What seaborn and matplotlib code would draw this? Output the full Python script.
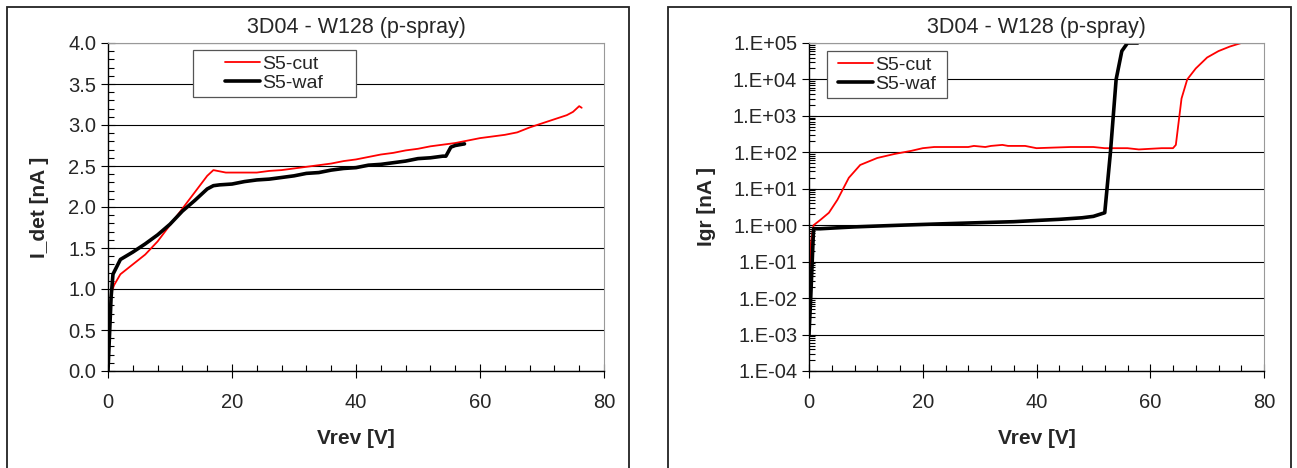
import numpy as np
import pandas as pd
import matplotlib
matplotlib.use("Agg")
import matplotlib.pyplot as plt
import matplotlib.ticker as mticker
from matplotlib.patches import Rectangle
import seaborn as sns

TITLE = "3D04 - W128 (p-spray)"

# I_det, S5-cut
v_det_cut = [0, 0.3, 0.5, 1, 2, 4, 6, 8, 10, 12, 14, 16, 17, 19, 22, 24, 26, 28, 30, 32, 34,
             36, 38, 40, 42, 44, 46, 48, 50, 52, 54, 56, 58, 60, 62, 64, 66, 68, 70, 72, 74,
             75, 76, 76.4]
i_det_cut = [0.0, 0.6, 0.95, 1.05, 1.18, 1.3, 1.42, 1.58, 1.78, 1.98, 2.18, 2.38, 2.45, 2.42,
             2.42, 2.42, 2.44, 2.45, 2.47, 2.49, 2.51, 2.53, 2.56, 2.58, 2.61, 2.64, 2.66, 2.69,
             2.71, 2.74, 2.76, 2.78, 2.81, 2.84, 2.86, 2.88, 2.91, 2.97, 3.02, 3.07, 3.12, 3.16,
             3.23, 3.21]

# I_det, S5-waf
v_det_waf = [0, 0.5, 0.8, 2, 4, 6, 8, 10, 12, 14, 16, 17, 18, 20, 22, 24, 26, 28, 30, 32, 34,
             36, 38, 40, 42, 44, 46, 48, 50, 52, 54, 54.5, 55.3, 56, 57.5]
i_det_waf = [0.0, 0.9, 1.18, 1.36, 1.45, 1.55, 1.66, 1.79, 1.95, 2.08, 2.22, 2.26, 2.27, 2.28,
             2.31, 2.33, 2.34, 2.36, 2.38, 2.41, 2.42, 2.45, 2.47, 2.48, 2.51, 2.52, 2.54, 2.56,
             2.59, 2.6, 2.62, 2.62, 2.73, 2.75, 2.77]

# Igr, S5-cut
v_gr_cut = [0, 0.3, 0.8, 2, 3.5, 5, 7, 9, 12, 15, 18, 20, 22, 25, 28, 29, 31, 32, 34, 35, 38,
            40, 43, 46, 50, 52, 54, 56, 58, 60, 62, 64, 64.5, 65.5, 66.5, 68, 70, 72, 74, 76]
i_gr_cut = [0.02, 0.3, 1.0, 1.4, 2.2, 5, 20, 45, 70, 90, 110, 130, 140, 140, 140, 150, 140,
            150, 160, 150, 150, 130, 135, 140, 140, 130, 130, 130, 120, 125, 130, 130, 160,
            3000, 10000, 20000, 40000, 60000, 80000, 100000]

# Igr, S5-waf
v_gr_waf = [0, 0.3, 0.8, 2, 5, 8, 12, 16, 20, 24, 28, 32, 36, 40, 44, 48, 50, 52, 53, 54, 55,
            56, 57.8]
i_gr_waf = [0.001, 0.01, 0.8, 0.8, 0.85, 0.9, 0.95, 1.0, 1.05, 1.1, 1.15, 1.2, 1.25, 1.35,
            1.45, 1.6, 1.75, 2.2, 100, 10000, 60000, 100000, 100000]

SERIES = ["S5-cut", "S5-waf"]
COLORS = {"S5-cut": "#ff0000", "S5-waf": "#000000"}

det = pd.concat([
    pd.DataFrame({"Vrev": v_det_cut, "I": i_det_cut, "series": "S5-cut"}),
    pd.DataFrame({"Vrev": v_det_waf, "I": i_det_waf, "series": "S5-waf"}),
])
gr = pd.concat([
    pd.DataFrame({"Vrev": v_gr_cut, "I": i_gr_cut, "series": "S5-cut"}),
    pd.DataFrame({"Vrev": v_gr_waf, "I": i_gr_waf, "series": "S5-waf"}),
])

sns.set_style("white")
plt.rcParams["font.family"] = ["Liberation Sans", "DejaVu Sans"]

W, H = 1297, 468
fig = plt.figure(figsize=(W / 100, H / 100), dpi=100)

# panel frames
fig.patches.append(Rectangle((7 / W, -0.01), (629 - 7) / W, 1.01 - 7 / H, transform=fig.transFigure,
                             fill=False, edgecolor="#222222", linewidth=1.3))
fig.patches.append(Rectangle((668 / W, -0.01), (1291 - 668) / W, 1.01 - 7 / H, transform=fig.transFigure,
                             fill=False, edgecolor="#222222", linewidth=1.3))

ax1 = fig.add_axes([108 / W, 1 - 371 / H, (604 - 108) / W, (371 - 43) / H])
ax2 = fig.add_axes([809 / W, 1 - 371 / H, (1264 - 809) / W, (371 - 43) / H])


def draw(ax, df, box):
    for s in SERIES:
        sub = df[df["series"] == s]
        sns.lineplot(data=sub, x="Vrev", y="I", ax=ax, sort=False, estimator=None,
                     color=COLORS[s], linewidth=1.3 if s == "S5-cut" else 2.6, label=s)
    ax.set_xlim(0, 80)
    ax.xaxis.set_major_locator(mticker.MultipleLocator(20))
    ax.xaxis.set_minor_locator(mticker.MultipleLocator(4))
    ax.grid(axis="y", color="black", linewidth=0.8)
    ax.grid(axis="x", visible=False)
    ax.set_axisbelow(True)
    for sp in ["top", "right"]:
        ax.spines[sp].set_color("#999999")
        ax.spines[sp].set_linewidth(0.8)
    for sp in ["left", "bottom"]:
        ax.spines[sp].set_color("black")
        ax.spines[sp].set_linewidth(1.0)
    ax.tick_params(which="major", direction="inout", length=10, width=0.8, labelsize=14.5,
                   color="black", bottom=True, left=True)
    ax.tick_params(which="minor", direction="in", length=4, width=0.8, color="black",
                   bottom=True, left=True)
    ax.tick_params(axis="x", which="major", pad=11)
    ax.set_title(TITLE, fontsize=15.5, pad=7)
    ax.set_xlabel("Vrev [V]", fontsize=15, fontweight="bold", labelpad=12)
    # legend frame drawn as a box, entries centred inside it
    x0, x1, y0, y1 = box
    ax.add_patch(Rectangle((x0, y0), x1 - x0, y1 - y0, transform=ax.transAxes,
                           facecolor="white", edgecolor="#555555", linewidth=0.9,
                           zorder=4, clip_on=False))
    leg = ax.legend(fontsize=14, frameon=False, handlelength=1.8, handletextpad=0.1,
                    borderpad=0.0, labelspacing=0.1, loc="center",
                    bbox_to_anchor=((x0 + x1) / 2, (y0 + y1) / 2))
    leg.set_zorder(5)
    return leg


draw(ax1, det, (0.171, 0.5, 0.835, 0.979))
ax1.set_ylim(0, 4)
ax1.yaxis.set_major_locator(mticker.MultipleLocator(0.5))
ax1.yaxis.set_minor_locator(mticker.MultipleLocator(0.1))
ax1.yaxis.set_major_formatter(mticker.FormatStrFormatter("%.1f"))
ax1.set_ylabel("I_det [nA ]", fontsize=15, fontweight="bold", labelpad=14)

draw(ax2, gr, (0.04, 0.303, 0.832, 0.976))
ax2.set_yscale("log")
ax2.set_ylim(1e-4, 1e5)
ax2.yaxis.set_major_locator(mticker.LogLocator(base=10, numticks=20))
ax2.yaxis.set_minor_locator(mticker.LogLocator(base=10, subs=np.arange(2, 10), numticks=20))
ax2.yaxis.set_minor_formatter(mticker.NullFormatter())
ax2.yaxis.set_major_formatter(mticker.FuncFormatter(
    lambda v, p: "1.E%+03d" % int(round(np.log10(v)))))
ax2.set_ylabel("Igr [nA ]", fontsize=15, fontweight="bold", labelpad=12)

fig.savefig("out.png", dpi=100)
